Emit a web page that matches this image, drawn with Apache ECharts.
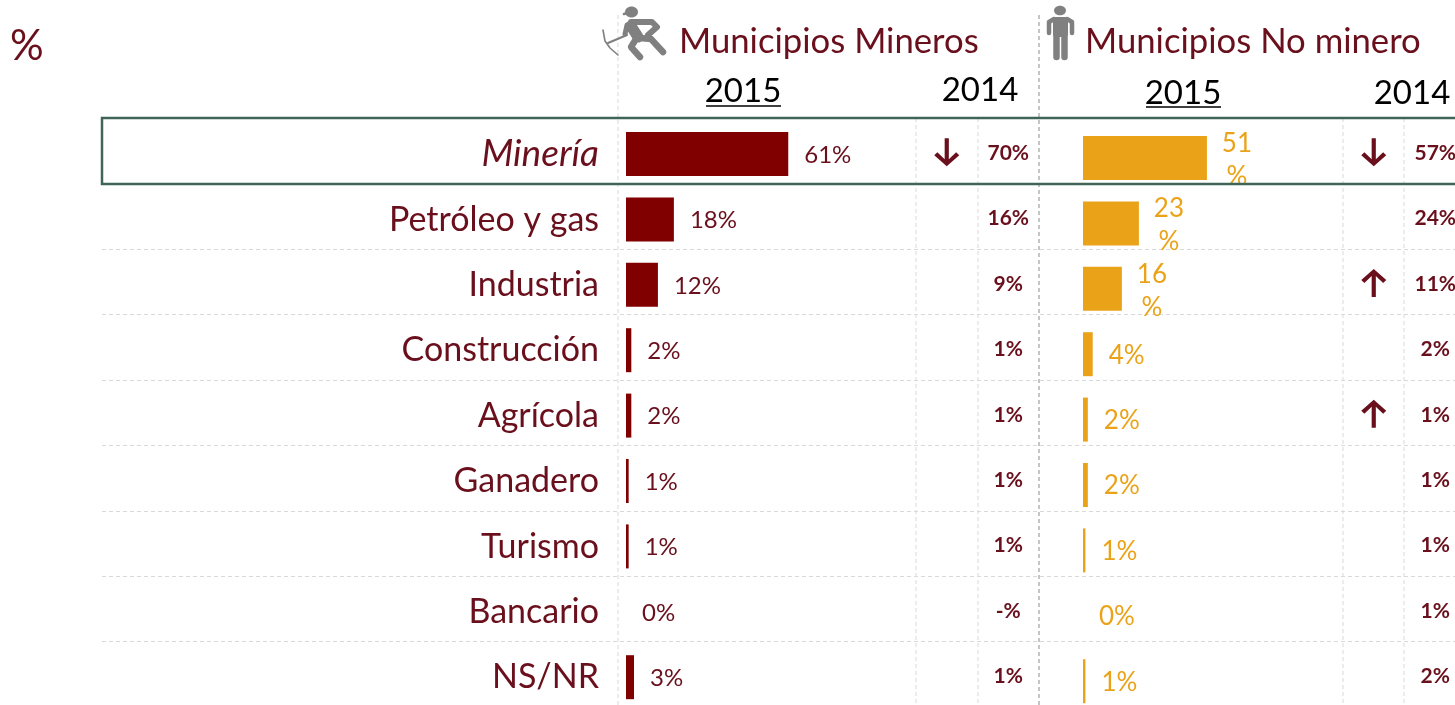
<!DOCTYPE html>
<html><head><meta charset="utf-8">
<style>html,body{margin:0;padding:0;background:#fff}#c{width:1455px;height:705px}</style>
<script src="https://cdn.jsdelivr.net/npm/echarts@6/dist/echarts.min.js"></script>
</head><body><div id="c"></div>
<script>
const categories = ['Minería','Petróleo y gas','Industria','Construcción','Agrícola','Ganadero','Turismo','Bancario','NS/NR'];
const mineros2015 = [61,18,12,2,2,1,1,0,3];
const noMineros2015 = [51,23,16,4,2,2,1,0,1];
const mineros2014 = ['70%','16%','9%','1%','1%','1%','1%','-%','1%'];
const noMineros2014 = ['57%','24%','11%','2%','1%','1%','1%','1%','2%'];
const minerosArrows = ['down',null,null,null,null,null,null,null,null];
const noMinerosArrows = ['down',null,'up',null,'up',null,null,null,null];
const wrappedNoMineros = [true,true,true,false,false,false,false,false,false];

const FONT = 'Lato';
const WINE = '#6a0f1c', BAR1 = '#800000', BAR2 = '#eaa318', ICON = '#808080';
const DOWN = 'path://M10 0 L14 0 L14 21 L21 14 L24 17 L12 28 L0 17 L3 14 L10 21 Z';
const UP = 'path://M10 28 L14 28 L14 7 L21 14 L24 11 L12 0 L0 11 L3 14 L10 7 Z';
const STEP = 65.4, H = STEP * 9;

const hiddenY = i => ({gridIndex:i,type:'category',data:categories,inverse:true,show:false});
const hiddenX = (i,max) => ({gridIndex:i,type:'value',min:0,max:max,show:false});

function arrowSeries(idx, arr){
  return {type:'scatter',xAxisIndex:idx,yAxisIndex:idx,silent:true,symbolSize:[25,28],
    data:arr.map((a,i)=>a?{value:[0.25,categories[i]],symbol:a==='up'?UP:DOWN}:null).filter(Boolean),
    itemStyle:{color:WINE,opacity:1}};
}
function prevSeries(idx, arr){
  return {type:'scatter',xAxisIndex:idx,yAxisIndex:idx,silent:true,symbolSize:1,
    itemStyle:{color:'rgba(0,0,0,0)',opacity:1},
    data:arr.map((t,i)=>({value:[0.75,categories[i]],label:{formatter:t}})),
    label:{show:true,position:'inside',offset:[0,1],fontFamily:FONT,fontWeight:'bold',fontSize:21,color:WINE,opacity:1}};
}
const txt = (x,y,text,size,color,align,extra) => ({type:'text',x,y,silent:true,z:20,
  style:Object.assign({text,fontFamily:FONT,fontSize:size,fill:color,align:align||'left',verticalAlign:'middle'},extra||{})});
const vline = (x,y1,color,w) => ({type:'line',silent:true,z:1,shape:{x1:x,y1:y1,x2:x,y2:705},
  style:{stroke:color,lineWidth:w||1,lineDash:[4,3]}});
const seg = (pts,w) => ({type:'polyline',silent:true,z:20,shape:{points:pts},
  style:{stroke:ICON,lineWidth:w,fill:null,lineCap:'round',lineJoin:'round'}});
const dot = (cx,cy,rx,ry) => ({type:'ellipse',silent:true,z:20,shape:{cx,cy,rx,ry},style:{fill:ICON}});

const option = {
  animation:false,
  backgroundColor:'#fff',
  grid:[
    {left:102,width:1353,top:118.5,height:H,outerBoundsMode:'none'},
    {left:626,width:266,top:121.3,height:H,outerBoundsMode:'none'},
    {left:1083,width:243,top:125.3,height:H,outerBoundsMode:'none'},
    {left:916,width:123,top:119.5,height:H,outerBoundsMode:'none'},
    {left:1343,width:123,top:119.5,height:H,outerBoundsMode:'none'}
  ],
  xAxis:[
    {gridIndex:0,type:'value',show:false},
    hiddenX(1,100),hiddenX(2,100),hiddenX(3,1),hiddenX(4,1)
  ],
  yAxis:[
    {gridIndex:0,type:'category',data:categories,inverse:true,position:'left',offset:-516,
     axisLine:{show:false},axisTick:{show:false},
     axisLabel:{margin:19,fontFamily:FONT,fontSize:34,color:WINE,padding:[6,0,0,0],
       formatter:(v)=>v==='Minería'?'{it|'+v+'}':v,
       rich:{it:{fontFamily:FONT,fontStyle:'italic',fontSize:37,color:WINE}}},
     splitLine:{show:true,lineStyle:{color:'#d9d9d9',type:[4,3],width:1}}},
    hiddenY(1),hiddenY(2),hiddenY(3),hiddenY(4)
  ],
  series:[
    {type:'bar',xAxisIndex:0,yAxisIndex:0,data:categories.map(()=>0),silent:true,itemStyle:{opacity:0}},
    {type:'bar',xAxisIndex:1,yAxisIndex:1,barWidth:44,data:mineros2015,silent:true,
     itemStyle:{color:BAR1},
     label:{show:true,position:'right',distance:16,offset:[0,1],formatter:'{c}%',fontFamily:FONT,fontSize:24,color:WINE}},
    {type:'bar',xAxisIndex:2,yAxisIndex:2,barWidth:44,silent:true,
     data:noMineros2015.map((v,i)=>wrappedNoMineros[i]
       ?{value:v,label:{formatter:v+'\n%',align:'center',distance:30,lineHeight:33,offset:[0,2]}}:v),
     itemStyle:{color:BAR2},
     label:{show:true,position:'right',distance:16,offset:[0,1],formatter:'{c}%',fontFamily:FONT,fontSize:26,color:BAR2}},
    arrowSeries(3,minerosArrows),prevSeries(3,mineros2014),
    arrowSeries(4,noMinerosArrows),prevSeries(4,noMineros2014)
  ],
  graphic:{elements:[
    vline(618,15,'#d9d9d9'),vline(1039,15,'#b3b3b3',1.5),
    vline(916,118,'#d9d9d9'),vline(978,118,'#d9d9d9'),vline(1343,118,'#d9d9d9'),vline(1404,118,'#d9d9d9'),
    {type:'rect',silent:true,z:15,shape:{x:102,y:118,width:1400,height:66},
     style:{fill:null,stroke:'#3f6557',lineWidth:2.5}},
    txt(10,46,'%',42,WINE),
    txt(679,42,'Municipios Mineros',34.7,WINE),
    txt(1085,42,'Municipios No minero',34.7,WINE),
    txt(743,91,'2015',33,'#000','center'),
    txt(980,90,'2014',33,'#000','center'),
    txt(1183,93,'2015',33,'#000','center'),
    txt(1412,93,'2014',33,'#000','center'),
    {type:'line',silent:true,z:20,shape:{x1:706,y1:106,x2:781,y2:106},style:{stroke:'#000',lineWidth:1.6}},
    {type:'line',silent:true,z:20,shape:{x1:1146,y1:107,x2:1221,y2:107},style:{stroke:'#000',lineWidth:1.6}},
    // miner icon
    dot(631.5,12,6.5,5.5),
    seg([[624,14],[630,12]],2.5),
    seg([[631,26],[638,37]],11),
    seg([[631,22],[652,22],[657,27],[648,35]],6),
    seg([[627,25],[625,34]],5),
    seg([[636,39],[631,47],[640,57]],6.5),
    seg([[640,38],[651,39],[663,52]],6.5),
    seg([[627,35],[608,43]],2),
    seg([[603,30],[605,41],[610,48],[618,55]],1.6),
    // person icon
    dot(1060,10.5,6,4.8),
    {type:'rect',silent:true,z:20,shape:{x:1053,y:17,width:15,height:20,r:3},style:{fill:ICON}},
    seg([[1056.5,35],[1056.5,57]],6.5),
    seg([[1064.5,35],[1064.5,57]],6.5),
    seg([[1049,23],[1049,33]],4.5),
    seg([[1072,23],[1072,33]],4.5),
    seg([[1049,22],[1054,19]],4.5),
    seg([[1072,22],[1067,19]],4.5)
  ]}
};
echarts.init(document.getElementById('c'),null,{renderer:'canvas'}).setOption(option);
</script></body></html>
